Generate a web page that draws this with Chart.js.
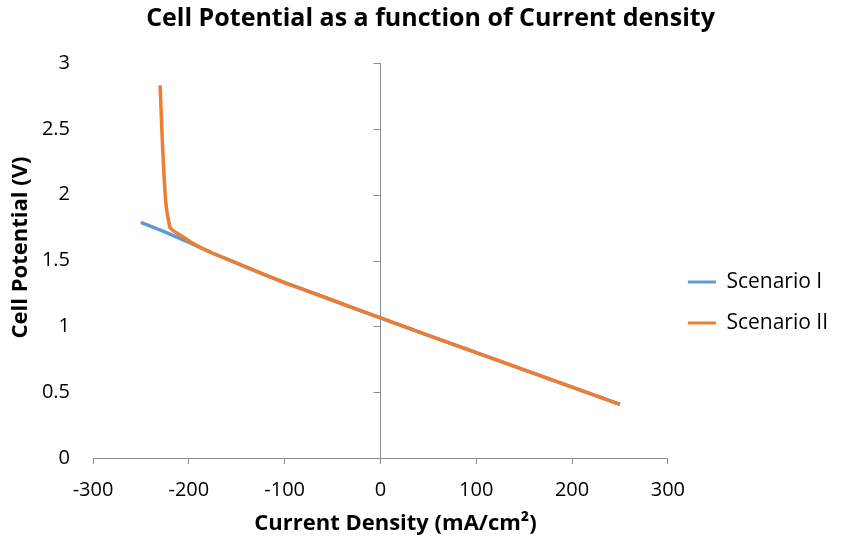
<!DOCTYPE html>
<html>
<head>
<meta charset="utf-8">
<script src="https://cdn.jsdelivr.net/npm/chart.js@4"></script>
<style>
  html, body { margin: 0; padding: 0; background: #fff; }
  #wrap { width: 861px; height: 541px; }
</style>
</head>
<body>
<div id="wrap"><canvas id="grafico" width="861" height="541"></canvas></div>
<script>
// dados
const densidade1 = [-250, -225, -200, -175, -150, -125, -100, -75, -50, -25, 0, 50, 100, 150, 200, 250];
const potencial1 = [1.790, 1.718, 1.637, 1.555, 1.480, 1.405, 1.332, 1.266, 1.198, 1.130, 1.064, 0.932, 0.800, 0.670, 0.539, 0.407];

const densidade2 = [-230, -227.6, -225.9, -224.2, -222.4, -219.7, -217, -213, -208, -203, -198, -193, -188, -175, -150, -125, -100, -75, -50, -25, 0, 50, 100, 150, 200, 250];
const potencial2 = [2.83, 2.40, 2.15, 1.95, 1.85, 1.75, 1.73, 1.71, 1.688, 1.665, 1.641, 1.619, 1.600, 1.555, 1.480, 1.405, 1.332, 1.266, 1.198, 1.130, 1.064, 0.932, 0.800, 0.670, 0.539, 0.407];

const ticksX = [-300, -200, -100, 0, 100, 200, 300];
const ticksY = [0, 0.5, 1, 1.5, 2, 2.5, 3];

const tituloX = "Current Density (mA/cm²)";
const tituloY = "Cell Potential (V)";

const COR_AZUL = "#5B9BD5";
const COR_LARANJA = "#ED7D31";
const COR_EIXO = "#8C8C8C";
const FONTE = "'Open Sans', 'Liberation Sans', sans-serif";

const pontos = (xs, ys) => xs.map((x, i) => ({ x, y: ys[i] }));

// eixo vertical em x = 0 com as marquinhas para a esquerda
const eixoZero = {
    id: "eixoZero",
    beforeDatasetsDraw(chart) {
        const { ctx, chartArea, scales } = chart;
        const x0 = Math.round(scales.x.getPixelForValue(0)) + 0.5;
        ctx.save();
        ctx.strokeStyle = COR_EIXO;
        ctx.lineWidth = 1;
        ctx.beginPath();
        ctx.moveTo(x0, chartArea.top);
        ctx.lineTo(x0, chartArea.bottom);
        ticksY.forEach(v => {
            const y = Math.round(scales.y.getPixelForValue(v)) + 0.5;
            ctx.moveTo(x0 - 7, y);
            ctx.lineTo(x0, y);
        });
        ctx.stroke();
        ctx.restore();
    }
};

// títulos dos eixos um pouco fora do centro, como no Excel
const titulosEixos = {
    id: "titulosEixos",
    afterDraw(chart) {
        const { ctx, chartArea } = chart;
        ctx.save();
        ctx.fillStyle = "#000";
        ctx.font = "bold 22px " + FONTE;
        ctx.textAlign = "center";
        ctx.textBaseline = "middle";
        ctx.fillText(tituloX, (chartArea.left + chartArea.right) / 2 + 15, 524);
        ctx.translate(21, (chartArea.top + chartArea.bottom) / 2 - 13);
        ctx.rotate(-Math.PI / 2);
        ctx.fillText(tituloY, 0, 0);
        ctx.restore();
    }
};

// alarga a caixa da legenda à direita para o título ficar centrado na página
const legendaLarga = {
    id: "legendaLarga",
    beforeLayout(chart) {
        const lg = chart.legend;
        if (lg && !lg._alargada) {
            const fitOriginal = lg.fit.bind(lg);
            lg.fit = function () { fitOriginal(); this.width += 21; };
            lg._alargada = true;
        }
    }
};

new Chart(document.getElementById("grafico"), {
    type: "scatter",
    data: {
        datasets: [
            {
                label: "Scenario I",
                data: pontos(densidade1, potencial1),
                showLine: true,
                borderColor: COR_AZUL,
                backgroundColor: COR_AZUL,
                borderWidth: 3.5,
                pointRadius: 0,
                tension: 0,
                order: 1
            },
            {
                label: "Scenario II",
                data: pontos(densidade2, potencial2),
                showLine: true,
                borderColor: COR_LARANJA,
                backgroundColor: COR_LARANJA,
                borderWidth: 3.5,
                pointRadius: 0,
                tension: 0,
                order: 0
            }
        ]
    },
    options: {
        responsive: false,
        animation: false,
        layout: { padding: { left: 2, right: 2, top: 0, bottom: 0 } },
        plugins: {
            title: {
                display: true,
                text: "Cell Potential as a function of Current density",
                color: "#000",
                font: { family: FONTE, size: 25, weight: "bold" },
                padding: { top: 4, bottom: 29 }
            },
            legend: {
                position: "right",
                reverse: true,
                // título vazio só para empurrar a legenda para baixo
                title: { display: true, text: "", font: { size: 10 }, padding: { top: 26, bottom: 26 } },
                labels: {
                    color: "#000",
                    font: { family: FONTE, size: 21 },
                    boxWidth: 28,
                    boxHeight: 3,
                    padding: 20,
                    generateLabels(chart) {
                        const itens = Chart.defaults.plugins.legend.labels.generateLabels(chart);
                        return itens.map(it => ({ ...it, lineWidth: 0, fillStyle: it.strokeStyle }));
                    }
                }
            },
            tooltip: { enabled: false }
        },
        scales: {
            x: {
                type: "linear",
                min: -300,
                max: 300,
                afterBuildTicks: s => { s.ticks = ticksX.map(v => ({ value: v })); },
                afterFit: s => { s.height = 83; },
                grid: { display: true, drawOnChartArea: false, drawTicks: true, tickLength: 6, color: COR_EIXO },
                border: { display: true, color: COR_EIXO },
                ticks: { color: "#000", padding: 14, font: { family: FONTE, size: 20 }, maxRotation: 0 },
                title: { display: false }
            },
            y: {
                type: "linear",
                min: 0,
                max: 3,
                afterBuildTicks: s => { s.ticks = ticksY.map(v => ({ value: v })); },
                afterFit: s => { s.width = 91; },
                grid: { display: false, drawTicks: false },
                border: { display: false },
                ticks: {
                    color: "#000",
                    padding: 23,
                    font: { family: FONTE, size: 20 },
                    callback: v => String(v)
                },
                title: { display: false }
            }
        }
    },
    plugins: [eixoZero, titulosEixos, legendaLarga]
});
</script>
</body>
</html>
